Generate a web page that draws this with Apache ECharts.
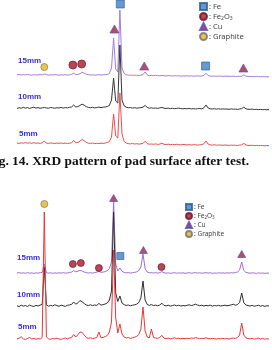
<!DOCTYPE html>
<html>
<head>
<meta charset="utf-8">
<script src="https://cdn.jsdelivr.net/npm/echarts@6/dist/echarts.min.js"></script>
<style>
  html, body { margin: 0; padding: 0; background: #fff; }
  #chart { width: 272px; height: 350px; }
</style>
</head>
<body>
<div id="chart"></div>
<script>
// 2theta (deg) sampling, shared by every trace
const twoTheta = [
  20, 20.5, 21, 21.5, 22, 22.5, 23, 23.5, 24, 24.5,
  25, 25.5, 26, 26.5, 27, 27.5, 28, 28.5, 29, 29.5,
  30, 30.5, 31, 31.5, 32, 32.5, 33, 33.5, 34, 34.5,
  35, 35.5, 36, 36.5, 37, 37.5, 38, 38.5, 39, 39.5,
  40, 40.5, 41, 41.5, 42, 42.5, 43, 43.5, 44, 44.5,
  45, 45.5, 46, 46.5, 47, 47.5, 48, 48.5, 49, 49.5,
  50, 50.5, 51, 51.5, 52, 52.5, 53, 53.5, 54, 54.5,
  55, 55.5, 56, 56.5, 57, 57.5, 58, 58.5, 59, 59.5,
  60, 60.5, 61, 61.5, 62, 62.5, 63, 63.5, 64, 64.5,
  65, 65.5, 66, 66.5, 67, 67.5, 68, 68.5, 69, 69.5,
  70, 70.5, 71, 71.5, 72, 72.5, 73, 73.5, 74, 74.5,
  75, 75.5, 76, 76.5, 77, 77.5, 78, 78.5, 79, 79.5,
  80
]

// ---- upper figure ----
const top15 = [
  2.2, 2.5, 2.0, 2.4, 2.1, 2.6, 2.2, 1.9, 2.3, 2.0,
  2.1, 2.4, 2.2, 3.0, 2.3, 1.9, 2.2, 2.0, 2.4, 2.1,
  1.8, 2.2, 2.0, 2.3, 2.0, 2.1, 2.6, 3.8, 2.5, 2.6,
  3.4, 4.6, 3.8, 2.8, 2.3, 2.0, 2.2, 1.8, 2.1, 2.3,
  2.0, 2.2, 2.3, 2.6, 3.5, 9, 39, 8, 5, 67,
  9, 3.5, 2.4, 1.8, 2.0, 1.6, 1.9, 1.7, 1.5, 1.8,
  2.4, 5.0, 2.2, 1.4, 1.6, 1.3, 1.7, 1.4, 1.2, 1.5,
  1.3, 1.1, 1.4, 1.2, 1.0, 1.3, 1.1, 1.2, 0.9, 1.1,
  1.0, 1.2, 0.9, 1.1, 0.8, 1.0, 1.1, 0.9, 1.0, 1.6,
  3.8, 1.5, 0.9, 0.8, 1.0, 0.7, 0.9, 0.8, 0.6, 0.9,
  0.7, 0.8, 0.6, 0.8, 0.5, 0.7, 0.6, 0.8, 2.2, 0.9,
  0.6, 0.4, 0.6, 0.3, 0.5, 0.4, 0.2, 0.4, 0.3, 0.1,
  0.2
]
const top10 = [
  1.5, 2.3, 1.8, 2.6, 1.9, 2.4, 1.6, 2.2, 2.8, 1.9,
  2.4, 1.7, 2.1, 2.6, 2.0, 1.8, 2.5, 2.2, 1.7, 2.3,
  2.0, 2.6, 1.9, 2.4, 2.1, 2.7, 3.0, 5.0, 3.0, 3.4,
  4.6, 5.8, 4.8, 3.4, 2.6, 2.2, 2.7, 2.1, 2.5, 2.9,
  2.4, 2.8, 3.0, 3.6, 4.5, 10, 32, 9, 7, 65,
  10, 4.2, 2.8, 2.2, 2.5, 1.9, 2.3, 1.8, 2.1, 2.4,
  2.8, 4.6, 2.6, 1.8, 2.2, 1.7, 2.0, 1.6, 2.1, 2.6,
  1.8, 1.5, 1.9, 1.4, 1.7, 1.3, 1.6, 1.9, 1.4, 1.2,
  1.5, 1.2, 1.6, 1.1, 1.4, 1.0, 1.3, 1.5, 1.2, 2.2,
  5.0, 2.0, 1.2, 1.0, 1.3, 0.9, 1.2, 0.8, 1.1, 0.9,
  1.0, 0.7, 1.1, 0.8, 0.9, 0.6, 1.0, 1.4, 2.8, 1.2,
  0.8, 0.6, 0.9, 0.5, 0.7, 0.4, 0.6, 0.3, 0.5, 0.2,
  0.4
]
const top5 = [
  3.0, 2.6, 3.2, 2.8, 3.4, 2.9, 3.1, 2.7, 3.3, 2.8,
  3.0, 2.7, 3.1, 5.0, 2.9, 2.6, 3.0, 2.8, 2.5, 2.9,
  2.7, 3.0, 2.6, 2.9, 2.5, 2.8, 3.2, 5.6, 3.3, 3.6,
  4.8, 6.6, 5.2, 3.6, 2.8, 2.6, 2.9, 2.4, 2.7, 2.5,
  2.8, 2.6, 3.0, 3.4, 4.4, 9, 32, 10, 8, 53,
  12, 4.6, 3.0, 2.4, 2.1, 2.5, 2.0, 2.3, 1.9, 2.2,
  2.6, 4.8, 2.4, 1.8, 2.0, 1.7, 2.1, 1.6, 1.9, 2.8,
  1.7, 1.5, 1.8, 1.4, 1.6, 1.3, 1.7, 1.4, 1.2, 1.5,
  1.3, 1.1, 1.4, 1.0, 1.3, 1.2, 0.9, 1.2, 1.4, 2.2,
  5.0, 2.0, 1.1, 0.9, 1.2, 0.8, 1.0, 0.9, 0.7, 1.0,
  0.8, 0.6, 0.9, 0.7, 0.8, 0.5, 0.9, 1.2, 2.6, 1.1,
  0.6, 0.5, 0.7, 0.4, 0.6, 0.3, 0.5, 0.4, 0.2, 0.4,
  0.3
]

// ---- lower figure ----
const bot15 = [
  1.0, 1.4, 0.8, 1.2, 0.7, 1.3, 0.9, 1.1, 0.6, 1.2,
  0.8, 1.3, 1.6, 10, 1.4, 0.9, 1.2, 0.7, 1.1, 0.8,
  1.2, 0.9, 1.3, 0.8, 1.1, 1.4, 2.0, 3.4, 2.2, 2.8,
  3.6, 3.0, 2.0, 1.4, 1.0, 1.3, 0.9, 1.5, 1.8, 2.6,
  1.6, 1.9, 2.4, 3.4, 5.5, 12, 73, 10, 3.0, 6.0,
  2.8, 1.6, 1.2, 1.4, 1.0, 1.3, 1.6, 2.2, 3.5, 7.0,
  20, 5.5, 2.0, 1.2, 1.4, 1.0, 1.3, 0.9, 1.4, 2.4,
  1.2, 0.8, 1.1, 0.7, 1.0, 1.3, 0.8, 1.1, 0.9, 1.2,
  0.7, 1.0, 1.3, 0.8, 1.1, 1.4, 0.9, 1.2, 0.8, 1.1,
  1.3, 0.9, 1.2, 0.7, 1.0, 0.8, 1.2, 0.9, 1.1, 0.8,
  1.2, 0.9, 1.3, 1.0, 1.5, 2.0, 4.0, 12, 3.6, 1.6,
  1.1, 0.8, 1.2, 0.9, 0.7, 1.1, 0.8, 1.0, 0.6, 0.9,
  0.8
]
const bot10 = [
  1.2, 0.4, 1.8, 0.9, 1.5, 0.6, 1.9, 1.1, 0.5, 1.6,
  1.0, 1.9, 2.5, 40, 2.2, 0.8, 1.6, 1.0, 2.2, 1.4,
  0.7, 1.8, 1.2, 0.6, 1.7, 2.1, 2.6, 5.0, 2.8, 4.2,
  6.5, 5.2, 3.4, 2.0, 1.5, 2.2, 1.4, 2.0, 1.6, 3.6,
  1.8, 2.4, 3.0, 4.0, 7.0, 16, 95, 14, 5.5, 11,
  4.0, 2.4, 1.5, 2.0, 1.2, 1.8, 2.2, 2.8, 4.5, 9.0,
  26, 7.0, 2.6, 1.6, 2.4, 1.4, 1.9, 1.2, 2.0, 3.8,
  1.6, 1.1, 1.8, 0.9, 1.5, 2.0, 1.2, 1.7, 1.0, 1.5,
  1.1, 1.7, 2.2, 1.4, 2.0, 2.8, 1.9, 1.3, 1.8, 1.0,
  1.6, 1.2, 1.9, 0.9, 1.5, 1.1, 1.7, 1.0, 1.4, 1.8,
  1.2, 1.6, 2.1, 2.8, 1.8, 2.4, 4.5, 14, 4.2, 2.0,
  1.4, 1.0, 1.6, 0.8, 1.3, 1.7, 0.9, 1.4, 0.7, 1.2,
  1.0
]
const bot5 = [
  1.0, 1.8, 3.2, 1.2, 0.6, 1.5, 2.4, 1.0, 1.6, 0.8,
  1.4, 0.9, 2.6, 128, 3.0, 1.2, 0.7, 1.5, 1.1, 1.8,
  1.0, 0.6, 1.4, 1.9, 1.2, 2.0, 2.6, 5.5, 3.0, 5.2,
  8.0, 7.6, 5.0, 2.4, 1.6, 2.2, 1.5, 1.9, 2.4, 8.0,
  2.2, 2.6, 3.4, 4.6, 8.0, 18, 90, 22, 7.0, 16,
  6.0, 3.0, 2.0, 2.4, 1.6, 2.2, 2.8, 3.6, 5.5, 11,
  33, 9.0, 3.0, 2.2, 11, 2.4, 2.0, 1.6, 2.6, 4.6,
  1.8, 1.4, 1.9, 1.2, 1.6, 2.2, 1.4, 1.8, 1.2, 1.6,
  1.3, 1.8, 1.4, 2.0, 1.6, 2.4, 1.8, 1.3, 1.7, 1.4,
  2.2, 1.5, 1.2, 1.7, 1.3, 1.0, 1.5, 1.2, 1.6, 1.1,
  1.4, 1.0, 1.6, 1.9, 1.5, 2.4, 5.0, 17, 5.0, 2.2,
  1.5, 1.1, 1.7, 0.9, 1.4, 1.8, 1.0, 1.5, 0.8, 1.2,
  1.0
]

// vertical offset of each trace (stacked plot)
const topOffsets = [73, 40, 4]
const botOffsets = [71, 38, 5]

// phase markers [2theta, height on the stacked scale]
const topFe = [[44.6, 146], [64.9, 84]]
const topFe2O3 = [[33.3, 85], [35.4, 86]]
const topCu = [[43.2, 121], [50.3, 84], [73.9, 82]]
const topGraphite = [[26.5, 83]]
const botFe = [[44.6, 89]]
const botFe2O3 = [[33.3, 81], [35.2, 82], [39.5, 77], [54.4, 78]]
const botCu = [[43.0, 147], [50.1, 95], [73.5, 91]]
const botGraphite = [[26.5, 141]]

const phaseNames = ['Fe', 'Fe2O3', 'Cu', 'Graphite']

const chart = echarts.init(document.getElementById('chart'))

const topColors = ['#a27ed8', '#363636', '#ec4d4d']
const botColors = ['#9c70d6', '#2e2e2e', '#e83838']

const phaseStyle = {
  Fe: { symbol: 'rect', itemStyle: { color: '#3f80c8', borderColor: '#2b5c94', borderWidth: 0.8 } },
  Fe2O3: { symbol: 'circle', itemStyle: { color: '#a5182f', borderColor: '#6e0f1f', borderWidth: 0.8 } },
  Cu: { symbol: 'triangle', itemStyle: { color: '#9e2244', borderColor: '#5a4ab0', borderWidth: 0.8 } },
  Graphite: { symbol: 'circle', itemStyle: { color: '#e8b420', borderColor: '#6f6f6f', borderWidth: 0.8 } }
}

const traceSeries = (arr, offset, color, idx) => ({
  type: 'line',
  xAxisIndex: idx,
  yAxisIndex: idx,
  data: twoTheta.map((t, i) => [t, arr[i] + offset]),
  showSymbol: false,
  lineStyle: { color: color, width: 1 },
  silent: true
})

const markerSeries = (name, data, idx, size) => ({
  type: 'scatter',
  name: name,
  xAxisIndex: idx,
  yAxisIndex: idx,
  data: data,
  symbol: phaseStyle[name].symbol,
  symbolSize: name === 'Cu' ? [size + 1, size] : size,
  itemStyle: phaseStyle[name].itemStyle,
  clip: false,
  z: 5
})

const legendFormatter = (name) => {
  if (name === 'Fe2O3') return ': Fe{s|2}O{s|3}'
  return ': ' + name
}

const labelText = (text, x, y) => ({
  type: 'text',
  left: x,
  top: y,
  style: {
    text: text,
    fill: '#3a30d8',
    font: 'bold 8px "Liberation Sans", Arial, sans-serif'
  }
})

let option = {
  animation: false,
  backgroundColor: '#fff',
  grid: [
    { left: 17, right: 3, top: 0, height: 150 },
    { left: 17, right: 3, top: 190, height: 155 }
  ],
  xAxis: [
    { type: 'value', gridIndex: 0, min: 20, max: 80, show: false },
    { type: 'value', gridIndex: 1, min: 20, max: 80, show: false }
  ],
  yAxis: [
    { type: 'value', gridIndex: 0, min: 0, max: 150, show: false },
    { type: 'value', gridIndex: 1, min: 0, max: 155, show: false }
  ],
  legend: [
    {
      orient: 'vertical',
      left: 199,
      top: 2,
      padding: 0,
      itemWidth: 7,
      itemHeight: 7,
      itemGap: 1,
      selectedMode: false,
      data: phaseNames,
      formatter: legendFormatter,
      textStyle: {
        fontSize: 7.5,
        lineHeight: 9,
        color: '#444',
        fontFamily: 'Noto Sans',
        padding: [0, 0, 0, -3],
        rich: { s: { fontSize: 5, verticalAlign: 'bottom', lineHeight: 9, color: '#444' } }
      }
    },
    {
      orient: 'vertical',
      left: 185,
      top: 203,
      padding: 0,
      itemWidth: 6,
      itemHeight: 6,
      itemGap: 1,
      selectedMode: false,
      data: phaseNames,
      formatter: legendFormatter,
      textStyle: {
        fontSize: 6.5,
        lineHeight: 8,
        color: '#444',
        fontFamily: 'Noto Sans',
        padding: [0, 0, 0, -3],
        rich: { s: { fontSize: 4.5, verticalAlign: 'bottom', lineHeight: 8, color: '#444' } }
      }
    }
  ],
  graphic: [
    labelText('15mm', 18, 57),
    labelText('10mm', 18, 93),
    labelText('5mm', 19, 130),
    labelText('15mm', 17, 254),
    labelText('10mm', 17, 291),
    labelText('5mm', 18, 323),
    {
      type: 'text',
      right: 23,
      top: 155,
      style: {
        text: 'Fig. 14. XRD pattern of pad surface after test.',
        fill: '#111',
        font: 'bold 13.4px "Liberation Serif", "Times New Roman", serif'
      }
    }
  ],
  series: [
    traceSeries(top15, topOffsets[0], topColors[0], 0),
    traceSeries(top10, topOffsets[1], topColors[1], 0),
    traceSeries(top5, topOffsets[2], topColors[2], 0),
    traceSeries(bot15, botOffsets[0], botColors[0], 1),
    traceSeries(bot10, botOffsets[1], botColors[1], 1),
    traceSeries(bot5, botOffsets[2], botColors[2], 1),
    markerSeries('Fe', topFe, 0, 8),
    markerSeries('Fe2O3', topFe2O3, 0, 8),
    markerSeries('Cu', topCu, 0, 8),
    markerSeries('Graphite', topGraphite, 0, 7),
    markerSeries('Fe', botFe, 1, 7),
    markerSeries('Fe2O3', botFe2O3, 1, 7),
    markerSeries('Cu', botCu, 1, 7),
    markerSeries('Graphite', botGraphite, 1, 7)
  ]
}

chart.setOption(option)
</script>
</body>
</html>
